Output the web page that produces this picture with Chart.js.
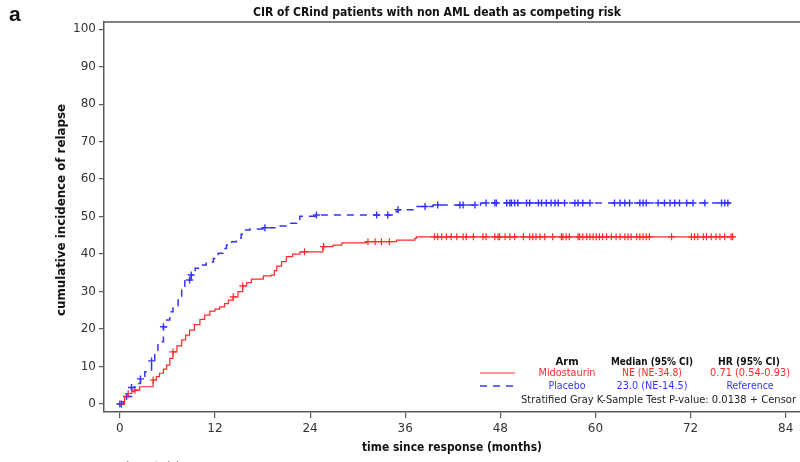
<!DOCTYPE html>
<html>
<head>
<meta charset="utf-8">
<script src="https://cdn.jsdelivr.net/npm/chart.js@4/dist/chart.umd.min.js"></script>
<style>
  html, body { margin: 0; padding: 0; background: #fff; }
  canvas { display: block; }
</style>
</head>
<body>
<canvas id="cir" width="800" height="462"></canvas>
<script>
// ---------------------------
// DATA
// ---------------------------
const xTicks = [0, 12, 24, 36, 48, 60, 72, 84];
const yTicks = [0, 10, 20, 30, 40, 50, 60, 70, 80, 90, 100];

// Midostaurin step curve: time (months) -> cumulative incidence (%)
const midoTime = [0, 0.6, 1.0, 1.5, 1.9, 2.5, 4.2, 4.6, 5.0, 5.5, 5.9, 6.3, 6.7, 7.2, 7.8, 8.3, 8.8, 9.4,
  10.1, 10.7, 11.35, 12.0, 12.6, 13.2, 13.7, 14.3, 14.9, 15.5, 16.0, 16.6, 18.1, 19.1, 19.5, 19.8,
  20.4, 21.0, 21.8, 22.7, 25.6, 26.9, 28.0, 31.1, 34.9, 37.2, 37.4, 77.3];
const midoCIR = [0, 1.9, 2.8, 3.3, 3.7, 4.6, 6.4, 7.3, 8.2, 9.3, 10.4, 12.2, 13.9, 15.5, 17.1, 18.4, 19.7, 21.2,
  22.6, 23.7, 24.8, 25.3, 25.9, 26.8, 27.7, 28.6, 30.0, 31.5, 32.4, 33.3, 34.2, 34.4, 35.6, 36.8,
  38.0, 39.3, 40.0, 40.6, 42.0, 42.4, 43.0, 43.3, 43.7, 44.2, 44.6, 44.6];
const midoCensor = [1.05, 1.9, 4.2, 6.7, 14.3, 15.5, 23.3, 25.7, 31.3, 32.2, 33.0, 34.0, 39.7, 40.1, 40.6,
  41.2, 41.8, 42.5, 43.3, 43.7, 44.6, 45.8, 46.2, 47.3, 47.7, 47.9, 48.6, 49.2, 49.8, 50.9, 51.7, 52.1,
  52.5, 53.0, 53.6, 54.6, 55.7, 55.9, 56.3, 56.7, 57.8, 58.0, 58.4, 58.9, 59.3, 59.7, 60.1, 60.5, 60.9,
  61.4, 62.0, 62.6, 63.1, 63.7, 64.1, 64.5, 65.2, 65.6, 66.0, 66.4, 66.8, 69.6, 72.1, 72.5, 72.9, 73.6,
  74.0, 74.6, 75.2, 75.7, 76.3, 77.1, 77.3];

// Placebo step curve
const placTime = [0, 0.4, 0.84, 1.47, 1.89, 2.6, 3.15, 4.0, 4.4, 4.8, 5.5, 5.9, 6.3, 6.7, 7.35, 7.8, 8.2,
  9.0, 9.5, 10.1, 10.9, 11.8, 12.4, 13.0, 13.45, 14.1, 14.7, 15.3, 15.6, 16.4, 18.3, 20.2, 21.4, 22.3,
  22.7, 24.8, 34.5, 35.0, 37.5, 39.5, 45.5, 77.0];
const placCIR = [0, 0.6, 2.0, 4.4, 5.5, 6.7, 8.6, 11.5, 13.9, 16.6, 20.6, 22.4, 24.6, 25.9, 28.2, 30.4, 33.1,
  34.4, 36.2, 37.1, 37.9, 38.8, 40.2, 41.5, 42.4, 43.3, 44.2, 45.3, 46.4, 46.7, 47.0, 47.5, 48.2, 49.2,
  50.1, 50.4, 51.3, 51.8, 52.7, 53.1, 53.6, 53.6];
const placCensor = [0, 0.2, 0.84, 1.47, 2.6, 4.0, 5.5, 8.8, 9.0, 18.3, 24.8, 32.4, 33.8, 35.1, 38.5, 40.1,
  42.9, 43.3, 44.8, 46.2, 47.3, 47.5, 48.8, 49.2, 49.4, 49.8, 50.2, 51.3, 51.7, 52.8, 53.2, 53.8, 54.4,
  54.9, 55.3, 56.1, 57.4, 57.8, 58.4, 59.3, 62.4, 63.1, 63.7, 64.3, 65.6, 66.0, 66.4, 67.9, 68.7, 69.4,
  70.0, 70.6, 71.5, 72.3, 73.8, 75.9, 76.3, 76.7];

const RED = '#ff2b2b';
const BLUE = '#3434ff';
const AXIS = '#5a5a5a';

// value of a step curve at time t
function stepValue(times, vals, t) {
  let v = vals[0];
  for (let i = 0; i < times.length; i++) {
    if (times[i] <= t) v = vals[i];
  }
  return v;
}

const toPoints = (xs, ys) => xs.map((x, i) => ({ x: x, y: ys[i] }));
const censorPoints = (cs, xs, ys) => cs.map(t => ({ x: t, y: stepValue(xs, ys, t) }));

// ---------------------------
// TEXT + FRAME
// ---------------------------
const annotations = {
  id: 'annotations',
  afterDraw(chart) {
    const ctx = chart.ctx;
    const area = chart.chartArea;
    ctx.save();

    // top frame line
    ctx.strokeStyle = AXIS;
    ctx.lineWidth = 1.5;
    ctx.beginPath();
    ctx.moveTo(area.left, area.top);
    ctx.lineTo(800, area.top);
    ctx.stroke();

    ctx.textBaseline = 'middle';
    ctx.textAlign = 'left';
    ctx.fillStyle = '#111';
    ctx.font = 'bold 21px "Liberation Sans", Arial, sans-serif';
    ctx.fillText('a', 9, 15);

    ctx.textAlign = 'center';
    ctx.font = 'bold 12px "DejaVu Sans", sans-serif';
    ctx.fillText('CIR of CRind patients with non AML death as competing risk', 437, 13, 368);

    ctx.fillText('time since response (months)', 452, 448, 180);

    ctx.save();
    ctx.translate(62, 210);
    ctx.rotate(-Math.PI / 2);
    ctx.fillText('cumulative incidence of relapse', 0, 0, 212);
    ctx.restore();

    // cut-off text at the very bottom
    ctx.fillStyle = '#666';
    ctx.font = '11px "DejaVu Sans", sans-serif';
    ctx.fillText('number at risk', 142, 466);

    // legend table
    ctx.fillStyle = '#111';
    ctx.font = 'bold 10px "DejaVu Sans", sans-serif';
    ctx.fillText('Arm', 567, 362, 26);
    ctx.fillText('Median (95% CI)', 652, 362, 82);
    ctx.fillText('HR (95% CI)', 749, 362, 62);

    ctx.font = '10px "DejaVu Sans", sans-serif';
    ctx.fillStyle = RED;
    ctx.fillText('Midostaurin', 567, 373, 57);
    ctx.fillText('NE (NE-34.8)', 652, 373, 60);
    ctx.fillText('0.71 (0.54-0.93)', 750, 373, 80);
    ctx.fillStyle = BLUE;
    ctx.fillText('Placebo', 567, 386, 37);
    ctx.fillText('23.0 (NE-14.5)', 652, 386, 71);
    ctx.fillText('Reference', 750, 386, 47);

    ctx.fillStyle = '#222';
    ctx.textAlign = 'right';
    ctx.fillText('Stratified Gray K-Sample Test P-value: 0.0138 + Censor', 796, 400, 275);

    // legend line samples
    ctx.lineWidth = 1;
    ctx.strokeStyle = RED;
    ctx.beginPath();
    ctx.moveTo(480, 373);
    ctx.lineTo(515, 373);
    ctx.stroke();
    ctx.lineWidth = 1.4;
    ctx.strokeStyle = BLUE;
    ctx.setLineDash([7, 6]);
    ctx.beginPath();
    ctx.moveTo(480, 386);
    ctx.lineTo(513, 386);
    ctx.stroke();

    ctx.restore();
  }
};

const tickFont = { family: '"DejaVu Sans", sans-serif', size: 12 };

new Chart(document.getElementById('cir'), {
  type: 'line',
  data: {
    datasets: [
      {
        label: 'Midostaurin',
        data: toPoints(midoTime, midoCIR),
        borderColor: RED,
        borderWidth: 1.2,
        stepped: 'before',
        pointRadius: 0,
        fill: false
      },
      {
        label: 'Placebo',
        data: toPoints(placTime, placCIR),
        borderColor: BLUE,
        borderWidth: 1.5,
        borderDash: [7, 6],
        stepped: 'before',
        pointRadius: 0,
        fill: false
      },
      {
        label: 'Midostaurin censor',
        data: censorPoints(midoCensor, midoTime, midoCIR),
        showLine: false,
        pointStyle: 'cross',
        pointRadius: 3.5,
        pointBorderWidth: 1.2,
        pointBorderColor: RED,
        borderColor: RED
      },
      {
        label: 'Placebo censor',
        data: censorPoints(placCensor, placTime, placCIR),
        showLine: false,
        pointStyle: 'cross',
        pointRadius: 3.5,
        pointBorderWidth: 1.4,
        pointBorderColor: BLUE,
        borderColor: BLUE
      }
    ]
  },
  options: {
    responsive: false,
    animation: false,
    layout: { autoPadding: false, padding: { top: 22, left: 0, right: 0, bottom: 0 } },
    plugins: {
      legend: { display: false },
      tooltip: { enabled: false },
      title: { display: false }
    },
    scales: {
      x: {
        type: 'linear',
        min: -2,
        max: 85.8,
        afterBuildTicks: s => { s.ticks = xTicks.map(v => ({ value: v })); },
        afterFit: s => { s.height = 50; s.paddingLeft = 0; s.paddingRight = 0; },
        grid: { drawOnChartArea: false, tickLength: 6, color: AXIS, lineWidth: 1.2 },
        border: { color: AXIS, width: 1.5 },
        ticks: { font: tickFont, color: '#333', padding: 4, maxRotation: 0 }
      },
      y: {
        type: 'linear',
        min: -2.13,
        max: 101.9,
        afterBuildTicks: s => { s.ticks = yTicks.map(v => ({ value: v })); },
        afterFit: s => { s.width = 104; s.paddingTop = 0; s.paddingBottom = 0; },
        grid: { drawOnChartArea: false, tickLength: 5, color: AXIS, lineWidth: 1.2 },
        border: { color: AXIS, width: 1.5 },
        ticks: { font: tickFont, color: '#333', padding: 3 }
      }
    }
  },
  plugins: [annotations]
});
</script>
</body>
</html>
